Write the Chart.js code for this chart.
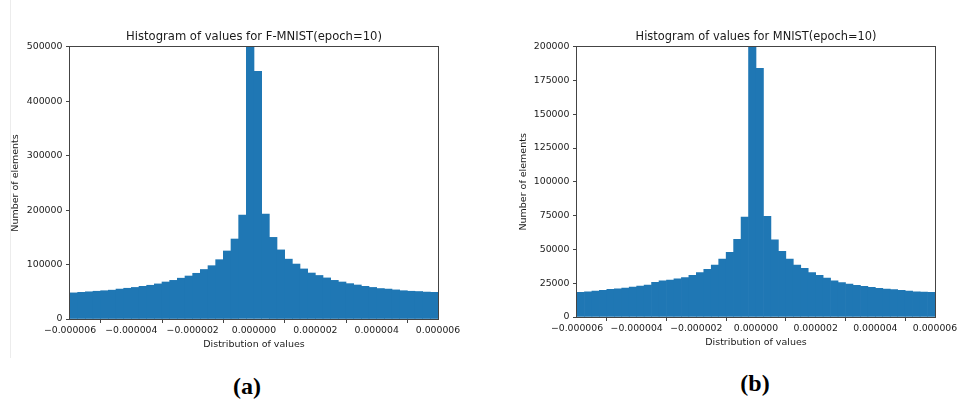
<!DOCTYPE html>
<html>
<head>
<meta charset="utf-8">
<script src="https://cdn.jsdelivr.net/npm/chart.js@4"></script>
<style>
	body { margin: 0; background: #fff; }
	#page { position: relative; width: 958px; height: 400px; overflow: hidden; background: #fff; }
	.box { position: absolute; top: 0; height: 360px; }
	#boxA { left: 0; width: 470px; }
	#boxB { left: 500px; width: 458px; }
	.cap { position: absolute; font: bold 24px "Liberation Serif", serif; color: #000; transform: translate(-50%, -50%); }
	#edge { position: absolute; left: 10px; top: 0; width: 1px; height: 358px; background: #ececec; }
</style>
</head>
<body>
<div id="page">
	<div id="edge"></div>
	<div class="box" id="boxA"><canvas id="chartA"></canvas></div>
	<div class="box" id="boxB"><canvas id="chartB"></canvas></div>
	<div class="cap" style="left:247px; top:386px">(a)</div>
	<div class="cap" style="left:755px; top:383px">(b)</div>
</div>
<script>
// histogram bins: 48 bins of 0.25e-6 covering -6e-6 .. 6e-6
const binStart = -6e-6
const binWidth = 0.25e-6
const binCount = 48
const binCenters = Array.from({ length: binCount }, (_, i) => binStart + binWidth * (i + 0.5))

// counts per bin (the centre bin is clipped by the axis limit)
const fmnistCounts = [
	48000, 49000, 50000, 51000, 52000, 53000, 55000, 56500, 58000, 60000, 62000, 64500,
	68000, 71000, 75000, 79000, 84000, 91000, 98000, 109000, 125000, 147000, 191000, 560000,
	455000, 193000, 150000, 127000, 110000, 101000, 92000, 84500, 80000, 75500, 71000, 68000,
	65000, 62500, 60000, 58000, 56000, 55000, 53500, 52000, 51000, 50500, 49500, 49000
]
const mnistCounts = [
	18200, 18700, 19200, 19700, 20400, 20900, 21400, 22200, 22900, 23600, 25600, 26800,
	27300, 28300, 29100, 30800, 32800, 35200, 38400, 42900, 47800, 57400, 74000, 230000,
	184000, 74400, 57100, 48500, 42900, 38400, 36000, 32800, 30800, 28800, 26800, 25400,
	24400, 23400, 22700, 21900, 21200, 20700, 20200, 19700, 19200, 18700, 18500, 18200
]

const xTicks = [-6e-6, -4e-6, -2e-6, 0, 2e-6, 4e-6, 6e-6]
const fmnistYTicks = [0, 100000, 200000, 300000, 400000, 500000]
const mnistYTicks = [0, 25000, 50000, 75000, 100000, 125000, 150000, 175000, 200000]

const barColor = '#1f77b4'
const spineColor = '#444'
const textColor = '#1a1a1a'
const fontFamily = '"DejaVu Sans", sans-serif'

const framePlugin = {
	id: 'frame',
	afterDatasetsDraw(chart) {
		const { ctx, chartArea: a } = chart
		ctx.save()
		ctx.strokeStyle = spineColor
		ctx.lineWidth = 1
		ctx.strokeRect(Math.round(a.left) - 0.5, Math.round(a.top) - 0.5,
			Math.round(a.right - a.left) + 1, Math.round(a.bottom - a.top) + 1)
		ctx.restore()
	}
}

function fmtX(v) {
	if (Math.abs(v) < 1e-12) v = 0
	return v.toFixed(6).replace('-', '\u2212')
}

function makeChart(id, cfg) {
	const ctx = document.getElementById(id)
	return new Chart(ctx, {
		type: 'bar',
		data: {
			datasets: [{
				data: binCenters.map((x, i) => ({ x: x, y: cfg.counts[i] })),
				backgroundColor: barColor,
				borderWidth: 0,
				barPercentage: 1,
				categoryPercentage: 1
			}]
		},
		options: {
			responsive: true,
			maintainAspectRatio: false,
			animation: false,
			layout: { padding: { left: 0, top: 0, right: cfg.padRight, bottom: 0 } },
			plugins: {
				legend: { display: false },
				tooltip: { enabled: false },
				title: {
					display: true,
					text: cfg.title,
					fullSize: false,
					color: textColor,
					font: { family: fontFamily, size: cfg.titleSize, weight: 'normal' },
					padding: { top: 30, bottom: 3 }
				}
			},
			scales: {
				x: {
					type: 'linear',
					min: xTicks[0],
					max: xTicks[xTicks.length - 1],
					offset: false,
					afterBuildTicks: s => { s.ticks = xTicks.map(v => ({ value: v })) },
					afterFit: s => { s.height = cfg.xAxisHeight; s.paddingLeft = 0; s.paddingRight = 0 },
					grid: { drawOnChartArea: false, drawTicks: true, tickLength: 4, color: spineColor },
					border: { display: false },
					ticks: {
						color: textColor, padding: 2, maxRotation: 0, autoSkip: false,
						font: { family: fontFamily, size: 9.3 },
						callback: v => fmtX(v)
					},
					title: {
						display: true, text: 'Distribution of values', color: textColor,
						font: { family: fontFamily, size: 9.5 },
						padding: { top: 0, bottom: cfg.xTitlePad }
					}
				},
				y: {
					min: 0,
					max: cfg.yTicks[cfg.yTicks.length - 1],
					afterBuildTicks: s => { s.ticks = cfg.yTicks.map(v => ({ value: v })) },
					afterFit: s => { s.width = cfg.yAxisWidth; s.paddingTop = 0; s.paddingBottom = 0 },
					grid: { drawOnChartArea: false, drawTicks: true, tickLength: 4, color: spineColor },
					border: { display: false },
					ticks: {
						color: textColor, padding: 3.5, autoSkip: false,
						font: { family: fontFamily, size: 9.4 },
						callback: v => String(v)
					},
					title: {
						display: true, text: 'Number of elements', color: textColor,
						font: { family: fontFamily, size: 9.5 },
						padding: { top: cfg.yTitlePad, bottom: 0 }
					}
				}
			}
		},
		plugins: [framePlugin]
	})
}

makeChart('chartA', {
	title: 'Histogram of values for F-MNIST(epoch=10)',
	titleSize: 11.6,
	counts: fmnistCounts,
	yTicks: fmnistYTicks,
	yAxisWidth: 70,
	yTitlePad: 10,
	xAxisHeight: 41,
	xTitlePad: 10,
	padRight: 32
})

makeChart('chartB', {
	title: 'Histogram of values for MNIST(epoch=10)',
	titleSize: 11.4,
	counts: mnistCounts,
	yTicks: mnistYTicks,
	yAxisWidth: 77,
	yTitlePad: 18,
	xAxisHeight: 43,
	xTitlePad: 12,
	padRight: 23
})
</script>
</body>
</html>
